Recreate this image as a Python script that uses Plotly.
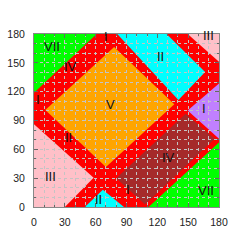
import plotly.graph_objects as go

# ---- data (region polygons in data coordinates) ----
green_tl_x = [0, 61, 0]
green_tl_y = [180, 180, 119]

orange_x = [11, 78, 136.5, 70]
orange_y = [101, 166.5, 107, 41.5]

cyan_top_x = [81, 129, 166.5, 140.5]
cyan_top_y = [180, 180, 140.5, 111.3]

pink_tr_x = [149.5, 180, 180]
pink_tr_y = [180, 180, 151]

purple_x = [180, 149.5, 180]
purple_y = [128.5, 100.5, 71]

brown_x = [80, 147.5, 176, 108]
brown_y = [30, 97, 71, 2.5]

green_br_x = [111.5, 180, 180]
green_br_y = [0, 0, 67]

pink_bl_x = [0, 0, 30, 58]
pink_bl_y = [86, 0, 0, 30.5]

cyan_bot_x = [49.5, 67, 87.5]
cyan_bot_y = [0, 18, 0]

label_text = ["VII", "IV", "I", "I", "V", "II", "III", "I", "II", "IV", "III", "I", "VII", "II"]
label_x = [17.6, 35.7, 3.6, 70, 74, 122.6, 169.6, 165.4, 33.4, 130.6, 16, 91, 167, 63.2]
label_y = [166.5, 145.7, 112, 177, 106.5, 157, 178.3, 103, 71.8, 51.7, 32, 18, 17.4, 7.7]

tick_vals = [0, 30, 60, 90, 120, 150, 180]

polys = [
    (green_tl_x, green_tl_y, "#00FF00"),
    (orange_x, orange_y, "#FFA500"),
    (cyan_top_x, cyan_top_y, "#00FFFF"),
    (pink_tr_x, pink_tr_y, "#FFC0C8"),
    (purple_x, purple_y, "#C080FF"),
    (brown_x, brown_y, "#A52A2A"),
    (green_br_x, green_br_y, "#00FF00"),
    (pink_bl_x, pink_bl_y, "#FFC0C8"),
    (cyan_bot_x, cyan_bot_y, "#00FFFF"),
]

fig = go.Figure()
# invisible trace so axes exist
fig.add_trace(go.Scatter(x=[0, 180], y=[0, 180], mode="markers",
                         marker=dict(opacity=0), hoverinfo="skip", showlegend=False))

shapes = []
for xs, ys, col in polys:
    path = "M " + " L ".join(f"{x},{y}" for x, y in zip(xs, ys)) + " Z"
    shapes.append(dict(type="path", path=path, xref="x", yref="y",
                       fillcolor=col, line=dict(width=0), layer="below"))

annotations = [dict(x=x, y=y, text=t, xref="x", yref="y", showarrow=False,
                    font=dict(family="Liberation Sans, Arial, sans-serif", size=13, color="#111"))
               for t, x, y in zip(label_text, label_x, label_y)]

axis_common = dict(
    range=[0, 180], tickmode="array", tickvals=tick_vals,
    ticks="inside", ticklen=4, tickcolor="#666", tickwidth=1,
    showline=True, linecolor="#888", linewidth=1, mirror="ticks",
    showgrid=True, gridcolor="#c4c4c4", griddash="dot", gridwidth=1,
    zeroline=False, automargin=False,
    minor=dict(dtick=10, tick0=0, ticks="inside", ticklen=2, tickcolor="#666",
               showgrid=True, gridcolor="#c4c4c4", griddash="dot", gridwidth=1),
    tickfont=dict(family="Liberation Sans, Arial, sans-serif", size=10.5, color="#222"),
    fixedrange=True,
)

fig.update_layout(
    width=252, height=252,
    margin=dict(l=34, r=33, t=34, b=45),
    paper_bgcolor="white", plot_bgcolor="#FF0000",
    shapes=shapes, annotations=annotations,
    xaxis=dict(**axis_common, ticklabelstandoff=5),
    yaxis=dict(**axis_common, ticklabelstandoff=6),
    showlegend=False,
)

fig.write_html("out.html", config={"displayModeBar": False},
               post_script="document.body.style.margin='0px';")
